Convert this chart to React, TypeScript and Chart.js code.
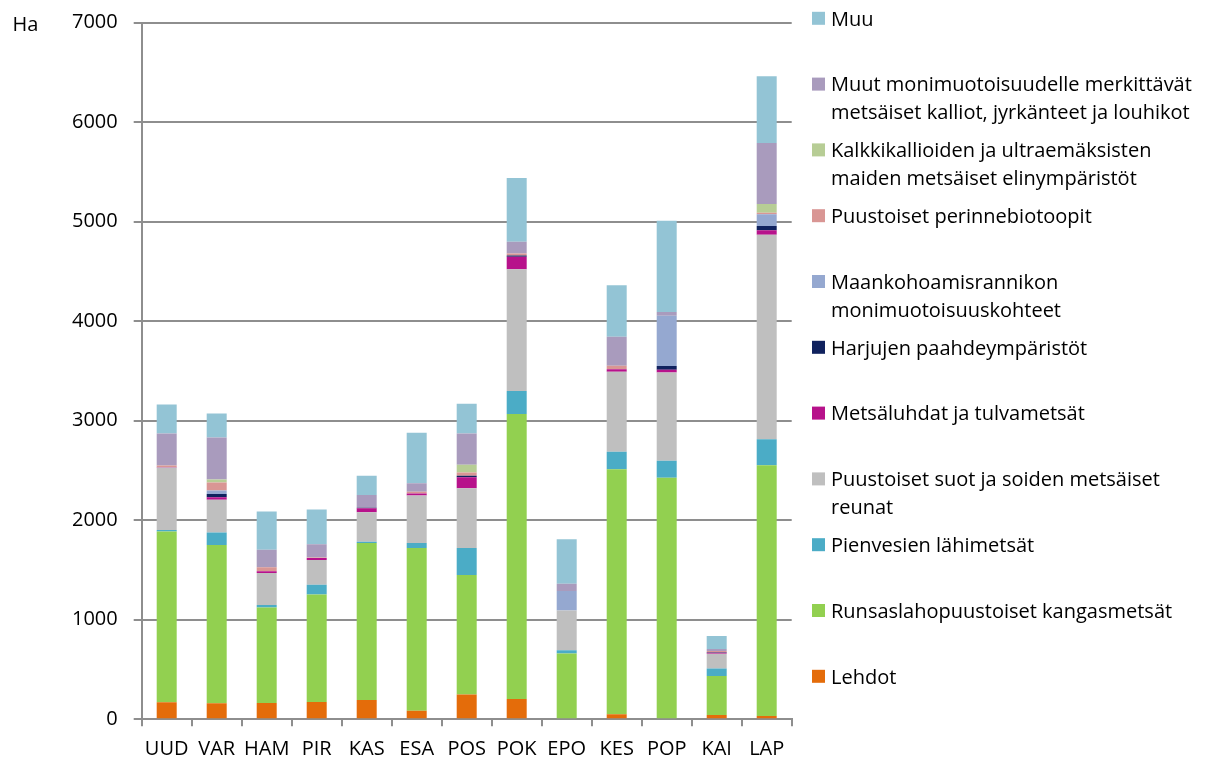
import React, { useEffect, useRef } from "react";
import { Chart, registerables } from "chart.js";

Chart.register(...registerables);

const FONT = "'Open Sans', Lato, sans-serif";
const FS = 20;

const categories = ["UUD", "VAR", "HAM", "PIR", "KAS", "ESA", "POS", "POK", "EPO", "KES", "POP", "KAI", "LAP"];

const lehdot = [171, 161, 164, 175, 195, 87, 248, 205, 0, 50, 0, 44, 34];
const runsaslahopuustoiset = [1715, 1591, 960, 1080, 1577, 1635, 1202, 2863, 661, 2462, 2427, 392, 2520];
const pienvesien = [17, 124, 24, 97, 13, 50, 272, 231, 34, 177, 172, 74, 260];
const puustoisetSuot = [627, 329, 322, 249, 296, 477, 600, 1224, 399, 803, 886, 148, 2054];
const metsaluhdat = [5, 27, 17, 20, 40, 20, 111, 125, 0, 26, 27, 12, 47];
const harjujen = [0, 33, 0, 0, 5, 0, 14, 13, 0, 0, 37, 5, 43];
const maankohoamis = [0, 34, 0, 0, 0, 0, 0, 0, 195, 0, 505, 0, 117];
const perinnebiotoopit = [15, 80, 40, 5, 0, 17, 33, 20, 0, 34, 0, 12, 14];
const kalkkikalliot = [0, 31, 0, 0, 0, 0, 77, 0, 0, 0, 0, 0, 90];
const muutMonimuotoisuus = [321, 422, 178, 134, 128, 87, 316, 118, 73, 291, 40, 20, 613];
const muu = [292, 242, 382, 349, 194, 506, 298, 641, 447, 518, 916, 130, 670];

const yTicks = [0, 1000, 2000, 3000, 4000, 5000, 6000, 7000];
const yUnit = "Ha";

// series, bottom of stack first; legend lines for wrapped labels
const seriesLabels: string[][] = [
  ["Lehdot"],
  ["Runsaslahopuustoiset kangasmetsät"],
  ["Pienvesien lähimetsät"],
  ["Puustoiset suot ja soiden metsäiset", "reunat"],
  ["Metsäluhdat ja tulvametsät"],
  ["Harjujen paahdeympäristöt"],
  ["Maankohoamisrannikon", "monimuotoisuuskohteet"],
  ["Puustoiset perinnebiotoopit"],
  ["Kalkkikallioiden ja ultraemäksisten", "maiden metsäiset elinympäristöt"],
  ["Muut monimuotoisuudelle merkittävät", "metsäiset kalliot, jyrkänteet ja louhikot"],
  ["Muu"],
];
const seriesValues = [
  lehdot,
  runsaslahopuustoiset,
  pienvesien,
  puustoisetSuot,
  metsaluhdat,
  harjujen,
  maankohoamis,
  perinnebiotoopit,
  kalkkikalliot,
  muutMonimuotoisuus,
  muu,
];
const seriesColors = [
  "#E46C0A",
  "#92D050",
  "#4BACC6",
  "#BFBFBF",
  "#B7128B",
  "#10225E",
  "#95A8D0",
  "#D99694",
  "#B7CD95",
  "#A99BBD",
  "#93C4D5",
];

const sideLegend = {
  id: "sideLegend",
  afterDraw(chart: any) {
    const ctx = chart.ctx;
    ctx.save();
    ctx.font = `${FS}px ${FONT}`;
    ctx.textAlign = "left";
    ctx.textBaseline = "alphabetic";
    const ds = chart.data.datasets;
    const n = ds.length;
    for (let i = 0; i < n; i++) {
      const idx = n - 1 - i;
      const cy = 18.3 + i * 65.8;
      ctx.fillStyle = ds[idx].backgroundColor;
      ctx.fillRect(812, cy - 6.5, 13, 13);
      ctx.fillStyle = "#000";
      seriesLabels[idx].forEach((ln, j) => {
        ctx.fillText(ln, 831, cy + 7.2 + j * 28);
      });
    }
    // unit label
    ctx.fillText(yUnit, 12.5, 30.5);
    ctx.restore();
  },
};

export default function App() {
  const ref = useRef<HTMLCanvasElement>(null);
  useEffect(() => {
    if (!ref.current) return;
    const chart = new Chart(ref.current, {
      type: "bar",
      data: {
        labels: categories,
        datasets: seriesValues.map((vals, i) => ({
          label: seriesLabels[i].join(" "),
          data: vals,
          backgroundColor: seriesColors[i],
          borderWidth: 0,
          barPercentage: 0.4,
          categoryPercentage: 1.0,
        })),
      },
      options: {
        responsive: false,
        animation: false,
        layout: { padding: { left: 0, top: 22.7, right: 419.3, bottom: 0 } },
        plugins: {
          legend: { display: false },
          tooltip: { enabled: false },
        },
        scales: {
          x: {
            stacked: true,
            offset: true,
            grid: {
              offset: true,
              drawOnChartArea: false,
              drawTicks: true,
              tickLength: 7,
              color: "#8E8E8E",
              lineWidth: 2,
            },
            border: { display: true, color: "#8E8E8E", width: 2 },
            ticks: {
              color: "#000",
              font: { family: FONT, size: FS },
              padding: 11,
              maxRotation: 0,
              autoSkip: false,
            },
            afterFit: (s: any) => {
              s.height = 762 - 719.3;
              s.paddingLeft = 0;
              s.paddingRight = 0;
            },
          },
          y: {
            stacked: true,
            min: 0,
            max: 7000,
            afterBuildTicks: (s: any) => {
              s.ticks = yTicks.map((v) => ({ value: v }));
            },
            grid: {
              color: "#8E8E8E",
              lineWidth: 2,
              drawTicks: true,
              tickLength: 8,
            },
            border: { display: true, color: "#8E8E8E", width: 2 },
            ticks: {
              color: "#000",
              font: { family: FONT, size: FS },
              padding: 16,
              callback: (v: any) => String(v),
            },
            afterFit: (s: any) => {
              s.width = 141.7;
              s.paddingTop = 0;
              s.paddingBottom = 0;
            },
          },
        },
      },
      plugins: [sideLegend],
    });
    return () => chart.destroy();
  }, []);
  return (
    <div style={{ position: "fixed", left: 0, top: 0, width: 1211, height: 762, background: "#fff" }}>
      <canvas ref={ref} width={1211} height={762} style={{ display: "block" }} />
    </div>
  );
}
